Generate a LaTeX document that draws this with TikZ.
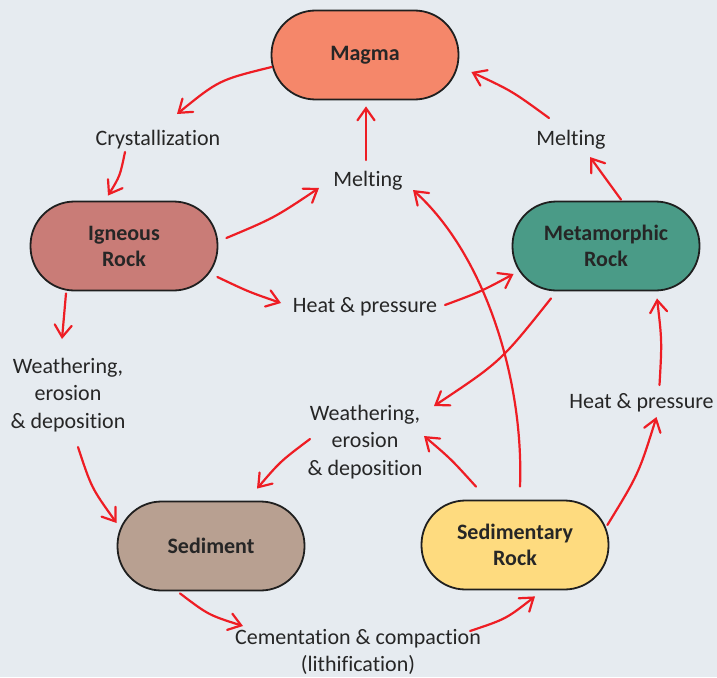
\documentclass[tikz,border=0pt]{standalone}
\usepackage{fontspec}
\setmainfont{Carlito}[Ligatures=NoCommon]
\usetikzlibrary{arrows.meta,calc}
\definecolor{bg}{HTML}{E6EBF0}
\definecolor{txt}{HTML}{262626}
\definecolor{arrred}{HTML}{EE1D24}
\definecolor{cmagma}{HTML}{F5876A}
\definecolor{cigneous}{HTML}{C97C77}
\definecolor{cmeta}{HTML}{4A9B87}
\definecolor{csed}{HTML}{B8A091}
\definecolor{csedrock}{HTML}{FEDB7F}
\tikzset{
  rock/.style={draw=black!88, line width=1.8pt, rounded corners=44pt,
    minimum width=187pt, minimum height=89pt, align=center, inner sep=0pt,
    font=\bfseries\fontsize{22}{26}\selectfont, text=txt},
  lbl/.style={inner sep=0pt, align=center, font=\fontsize{22}{27.5}\selectfont, text=txt},
  arr/.style={draw=arrred, line width=2.2pt, line cap=round,
    -{Straight Barb[length=12pt,width=17pt,line cap=round]}},
}
\begin{document}
\begin{tikzpicture}[x=1pt,y=-1pt]
\fill[bg] (0,0) rectangle (717,677);
\useasboundingbox (0,0) rectangle (717,677);

\node[rock, fill=cmagma] (magma) at (365,55) {\raisebox{-2pt}{Magma}};
\node[rock, fill=cigneous] (igneous) at (124,246) {Igneous\\Rock};
\node[rock, fill=cmeta] (meta) at (606,246) {Metamorphic\\Rock};
\node[rock, fill=csed] (sediment) at (211,546) {\raisebox{-2pt}{Sediment}};
\node[rock, fill=csedrock] (sedrock) at (515,545) {Sedimentary\\Rock};

\node[lbl] (cryst) at (158,140) {Crystallization};
\node[lbl] (meltc) at (368,181) {Melting};
\node[lbl] (meltr) at (571,140) {Melting};
\node[lbl] (heatm) at (365,307) {Heat \& pressure};
\node[lbl] (weathl) at (68,395) {Weathering,\\erosion\\\& deposition};
\node[lbl] (weathm) at (365,442) {Weathering,\\erosion\\\& deposition};
\node[lbl] (heatr) at (641.5,403) {Heat \& pressure};
\node[lbl] (cement) at (358,652) {Cementation \& compaction\\(lithification)};

% 1 magma -> crystallization
\draw[arr] ($(magma.west)+(1,12)$) .. controls (219,80) .. ($(cryst)+(19,-26)$);
% 2 crystallization -> igneous
\draw[arr] ($(cryst)+(-33,12)$) .. controls (120,176) .. ($(igneous.north)+(-16,-5)$);
% 3 igneous -> melting
\draw[arr] ($(igneous.east)+(8,-8)$) .. controls (274,218) .. ($(meltc)+(-49,7)$);
% 4 melting -> magma
\draw[arr] ($(meltc)+(-2,-21)$) -- ($(magma.south)+(1,6)$);
% 5 igneous -> heat & pressure
\draw[arr] ($(igneous.east)+(-1,31)$) .. controls (249,292) .. ($(heatm)+(-84,-4)$);
% 6 heat & pressure -> metamorphic
\draw[arr] ($(heatm)+(80,-2)$) .. controls (480,292) .. ($(meta.west)+(2,28)$);
% 7 metamorphic -> melting
\draw[arr] ($(meta.north)+(15,-1)$) -- ($(meltr)+(19,17)$);
% 8 melting -> magma
\draw[arr] ($(meltr)+(-22,-22)$) .. controls (512,91) .. ($(magma.east)+(12,17)$);
% 9 igneous -> weathering
\draw[arr] ($(igneous.south)+(-58,2)$) -- ($(weathl)+(-6,-56)$);
% 10 weathering -> sediment
\draw[arr] ($(weathl)+(10,52)$) .. controls (91.5,488) .. ($(sediment.west)+(0,-23)$);
% 11 sediment -> cementation
\draw[arr] ($(sediment.south)+(-31,2)$) .. controls (208.5,615) .. ($(cement)+(-115,-26)$);
% 12 cementation -> sedimentary rock
\draw[arr] ($(cement)+(112,-21)$) .. controls (506,619) .. ($(sedrock.south)+(20,6)$);
% 13 sedimentary rock -> heat & pressure
\draw[arr] ($(sedrock.east)+(-2,-20)$) .. controls (638.6,474) .. ($(heatr)+(15,14)$);
% 14 heat & pressure -> metamorphic
\draw[arr] ($(heatr)+(18,-18)$) .. controls (662,341) .. ($(meta.south)+(51,7)$);
% 15 sedimentary rock -> weathering
\draw[arr] ($(sedrock.north)+(-39,-13)$) .. controls (451,459) .. ($(weathm)+(59,-6)$);
% 16 sedimentary rock -> melting
\draw[arr] ($(sedrock.north)+(5,-13)$) .. controls (524,380) and (485,255) .. ($(meltc)+(45,9)$);
% 17 metamorphic -> weathering
\draw[arr] ($(meta.south)+(-55,7)$) .. controls (500.7,361.6) .. ($(weathm)+(69,-36)$);
% 18 weathering -> sediment
\draw[arr] ($(weathm)+(-55,-3)$) .. controls (280.4,461.3) .. ($(sediment.north)+(46,-12)$);
\end{tikzpicture}
\end{document}
